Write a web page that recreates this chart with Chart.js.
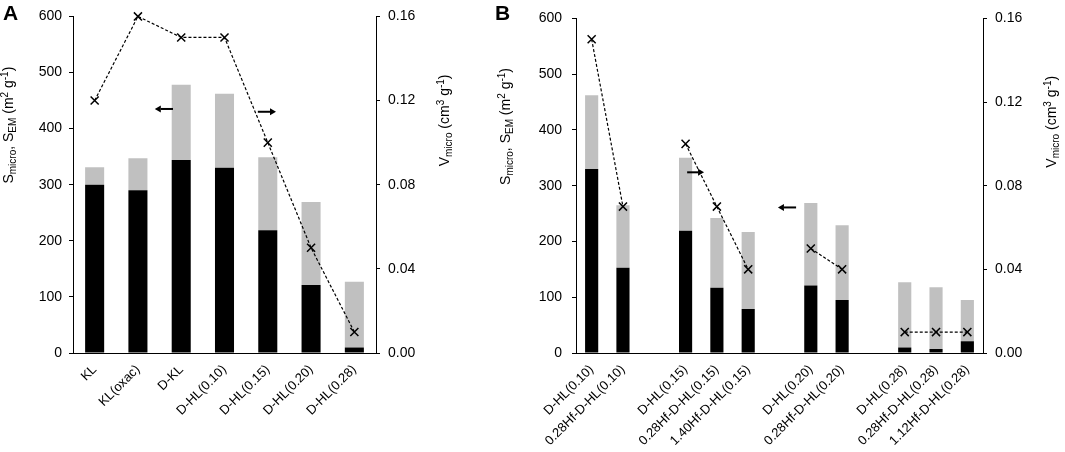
<!DOCTYPE html>
<html><head><meta charset="utf-8">
<script src="https://cdn.jsdelivr.net/npm/chart.js@4.4.1/dist/chart.umd.min.js"></script>
<style>
html,body{margin:0;padding:0;background:#fff;}
#wrapA{position:absolute;left:0;top:0;width:490px;height:452px;}
#wrapB{position:absolute;left:490px;top:0;width:575px;height:452px;}
</style></head><body>
<div id="wrapA"><canvas id="cA"></canvas></div>
<div id="wrapB"><canvas id="cB"></canvas></div>
<script>
// ---------- data ----------
const labelsA = ['KL','KL(oxac)','D-KL','D-HL(0.10)','D-HL(0.15)','D-HL(0.20)','D-HL(0.28)'];
const sMicroA = [300, 290, 344, 330, 219, 121, 10];
const sEmA    = [31, 57, 134, 132, 130, 148, 117];
const vMicroA = [0.12, 0.16, 0.15, 0.15, 0.10, 0.05, 0.01];

const labelsB = ['D-HL(0.10)','0.28Hf-D-HL(0.10)','','D-HL(0.15)','0.28Hf-D-HL(0.15)','1.40Hf-D-HL(0.15)','',
                 'D-HL(0.20)','0.28Hf-D-HL(0.20)','','D-HL(0.28)','0.28Hf-D-HL(0.28)','1.12Hf-D-HL(0.28)'];
const sMicroB = [330, 153, null, 219, 117, 79, null, 121, 95, null, 10, 7, 21];
const sEmB    = [132, 112, null, 131, 125, 138, null, 148, 134, null, 117, 111, 74];
const vMicroB = [0.15, 0.07, null, 0.10, 0.07, 0.04, null, 0.05, 0.04, null, 0.01, 0.01, 0.01];

const leftTicks  = [0, 100, 200, 300, 400, 500, 600];
const rightTicks = [0, 0.04, 0.08, 0.12, 0.16];

// direction arrows (category index, left-axis value)
const arrowsA = [{x0: 1.81, x1: 1.39, y: 435}, {x0: 3.77, x1: 4.19, y: 430}];
const arrowsB = [{x0: 3.05, x1: 3.59, y: 324}, {x0: 6.53, x1: 5.95, y: 261}];

const titleLeft  = [['S','n'],['micro','sub'],[', S','n'],['EM','sub'],[' (m','n'],['2','sup'],[' g','n'],['-1','sup'],[')','n']];
const titleRight = [['V','n'],['micro','sub'],[' (cm','n'],['3','sup'],[' g','n'],['-1','sup'],[')','n']];

// ---------- drawing ----------
const FAM = '"Liberation Sans", Arial, Helvetica, sans-serif';
Chart.defaults.font.family = FAM;
Chart.defaults.color = '#000';

function drawRich(ctx, parts, x, y) {
  let total = 0;
  const ws = parts.map(p => {
    ctx.font = (p[1] === 'n' ? 14 : 10) + 'px ' + FAM;
    const w = ctx.measureText(p[0]).width; total += w; return w;
  });
  ctx.save();
  ctx.translate(x, y);
  ctx.rotate(-Math.PI / 2);
  ctx.fillStyle = '#000';
  ctx.textAlign = 'left';
  ctx.textBaseline = 'alphabetic';
  let cx = -total / 2;
  parts.forEach((p, i) => {
    ctx.font = (p[1] === 'n' ? 14 : 10) + 'px ' + FAM;
    const dy = p[1] === 'sub' ? 3 : (p[1] === 'sup' ? -5 : 0);
    ctx.fillText(p[0], cx, dy);
    cx += ws[i];
  });
  ctx.restore();
}

function drawArrow(ctx, x0, x1, y) {
  const dir = Math.sign(x1 - x0);
  const head = 6;
  ctx.save();
  ctx.strokeStyle = '#000';
  ctx.fillStyle = '#000';
  ctx.lineWidth = 2;
  ctx.beginPath();
  ctx.moveTo(x0, y);
  ctx.lineTo(x1 - dir * head, y);
  ctx.stroke();
  ctx.beginPath();
  ctx.moveTo(x1, y);
  ctx.lineTo(x1 - dir * head, y - 3.5);
  ctx.lineTo(x1 - dir * head, y + 3.5);
  ctx.closePath();
  ctx.fill();
  ctx.restore();
}

const decoPlugin = {
  id: 'deco',
  afterDraw(chart, args, o) {
    const ctx = chart.ctx;
    const ca = chart.chartArea;
    const xs = chart.scales.x, ys = chart.scales.y;
    // panel letter
    ctx.save();
    ctx.font = 'bold 21px ' + FAM;
    ctx.fillStyle = '#000';
    ctx.textAlign = 'left';
    ctx.textBaseline = 'alphabetic';
    ctx.fillText(o.letter, o.letterX, 20);
    ctx.restore();
    // axis titles
    const h = ca.bottom - ca.top;
    drawRich(ctx, titleLeft, ca.left - o.leftTitleOff, ca.top + h * 0.323);
    drawRich(ctx, titleRight, ca.right + 73, ca.top + h * 0.309);
    // arrows
    o.arrows.forEach(a => {
      drawArrow(ctx, xs.getPixelForValue(a.x0), xs.getPixelForValue(a.x1), ys.getPixelForValue(a.y));
    });
  }
};

function makeChart(id, labels, sMicro, sEm, vMicro, cfg) {
  return new Chart(document.getElementById(id), {
    type: 'bar',
    data: {
      labels: labels,
      datasets: [
        { type: 'line', data: vMicro, yAxisID: 'y1', order: 0, spanGaps: false, clip: false,
          borderColor: '#000', borderWidth: 1.2, borderDash: [3, 2], tension: 0, fill: false,
          pointStyle: 'crossRot', pointRadius: 5.7, pointBorderColor: '#000', pointBorderWidth: 1.5,
          pointBackgroundColor: 'rgba(0,0,0,0)' },
        { data: sMicro, backgroundColor: '#000', order: 1, yAxisID: 'y',
          barPercentage: cfg.barPct, categoryPercentage: 1 },
        { data: sEm, backgroundColor: 'rgb(192,192,192)', order: 1, yAxisID: 'y',
          barPercentage: cfg.barPct, categoryPercentage: 1 }
      ]
    },
    options: {
      responsive: true,
      maintainAspectRatio: false,
      animation: false,
      layout: { padding: { top: 10, left: 0, right: 0, bottom: 0 } },
      plugins: {
        legend: { display: false },
        tooltip: { enabled: false },
        deco: { letter: cfg.letter, letterX: cfg.letterX, arrows: cfg.arrows, leftTitleOff: cfg.leftTitleOff }
      },
      scales: {
        x: {
          stacked: true,
          grid: { display: false, drawTicks: false },
          border: { display: true, color: '#000', width: 1 },
          ticks: { autoSkip: false, maxRotation: 45, minRotation: 45, padding: 9,
                   font: { size: 13 }, color: '#000' },
          afterFit: s => { s.height = 99; }
        },
        y: {
          stacked: true,
          position: 'left',
          min: 0, max: 600,
          grid: { drawOnChartArea: false, drawTicks: true, tickLength: 4, color: '#000', lineWidth: 1 },
          border: { display: true, color: '#000', width: 1 },
          ticks: { padding: cfg.leftPad, font: { size: 14 }, color: '#000' },
          afterBuildTicks: s => { s.ticks = leftTicks.map(v => ({ value: v })); },
          afterFit: s => { s.width = cfg.leftW; }
        },
        y1: {
          position: 'right',
          min: 0, max: 0.16,
          grid: { drawOnChartArea: false, drawTicks: true, tickLength: 4, color: '#000', lineWidth: 1 },
          border: { display: true, color: '#000', width: 1 },
          ticks: { padding: 8, font: { size: 14 }, color: '#000', callback: v => Number(v).toFixed(2) },
          afterBuildTicks: s => { s.ticks = rightTicks.map(v => ({ value: v })); },
          afterFit: s => { s.width = cfg.rightW; }
        }
      }
    },
    plugins: [decoPlugin]
  });
}

makeChart('cA', labelsA, sMicroA, sEmA, vMicroA,
  { letter: 'A', letterX: 3, arrows: arrowsA, barPct: 0.44, leftW: 73, rightW: 114, leftPad: 7, leftTitleOff: 60 });
makeChart('cB', labelsB, sMicroB, sEmB, vMicroB,
  { letter: 'B', letterX: 5, arrows: arrowsB, barPct: 0.42, leftW: 86, rightW: 82, leftPad: 10, leftTitleOff: 66 });
</script>
</body></html>
